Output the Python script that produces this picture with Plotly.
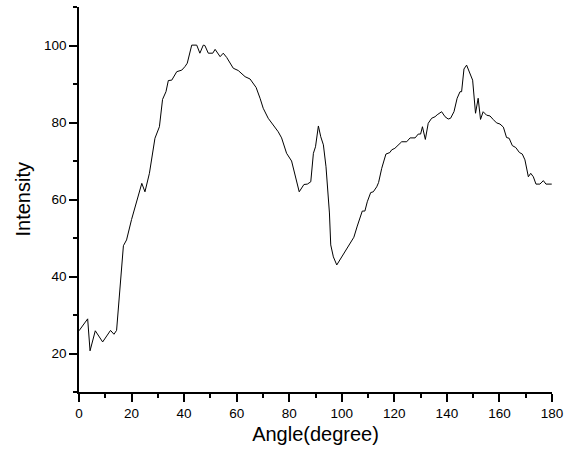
import plotly.graph_objects as go

angle = [0, 3.3, 4.2, 6.2, 9, 12, 13.3, 14.3, 16.9, 18.1, 20, 22, 23.9, 25.1, 26.8, 28.9,
         30.6, 31.8, 33.1, 34, 35.3, 37.2, 39.1, 40.3, 41.2, 42.9, 44.8, 46, 47.3, 47.9,
         49.2, 50.9, 51.8, 53.7, 54.9, 56.2, 58.7, 60.6, 61.9, 63.2, 65.1, 66.3, 67.4,
         68.9, 70.1, 72, 73.9, 75.8, 77.1, 79, 80.9, 82.2, 83.8, 85.6, 86.9, 88.2, 89.2,
         90, 91.1, 92, 93, 94, 95.3, 95.8, 96.8, 98.1, 101.2, 104.6, 105.9, 107, 107.8,
         108.8, 109.7, 111, 112, 113.3, 114, 115.2, 116.8, 118.3, 119, 120.2, 121.5,
         122.8, 124.7, 126, 127.9, 129.1, 130, 130.7, 131.8, 132.9, 134.2, 135.5, 136.3,
         138, 139.3, 140.5, 141.4, 142.7, 143.9, 145, 145.6, 146.5, 147.5, 148.8, 149.8,
         150.9, 151.9, 152.8, 153.8, 155.1, 156.4, 157.6, 158.9, 160.2, 161.5, 162.7,
         163.7, 164.9, 166.2, 167.6, 168.7, 169.7, 171, 171.9, 172.9, 173.9, 175.4, 176.7,
         177.7, 179.9]
intensity = [25.9, 29, 20.7, 25.9, 23, 26, 25, 26, 48, 49.5, 54.8, 60, 64.2, 62, 66.8, 75.9,
             78.9, 86, 88, 90.9, 91, 93.2, 93.6, 94.5, 95.4, 100.1, 100.1, 98, 100.1, 100,
             98, 98, 99, 97.1, 98, 96.9, 94.1, 93.5, 92.8, 91.9, 91.3, 90.3, 89.1,
             86.3, 83.7, 81.1, 79.4, 77.6, 76, 72, 70, 66.3, 62, 63.9, 64, 64.6, 72,
             73.7, 79.1, 76.3, 74.2, 68.5, 56.5, 48.2, 45.1, 43, 46.4, 50.2, 53.1, 55.4, 57,
             57, 59.4, 61.8, 62, 63.3, 64.4, 68.1, 71.8, 72.2, 72.9, 73.3, 74.2,
             75, 75, 76, 76, 77, 77, 78.9, 75.6, 79.8, 81.1, 81.5, 82,
             82.8, 81.5, 80.9, 81.1, 82.8, 86.3, 88, 88, 93.9, 94.9, 92.8, 91,
             82.4, 86.3, 80.8, 82.8, 81.9, 81.7, 80.8, 79.9, 79.6, 78.8, 76.1,
             75.9, 74, 73.5, 72.2, 71.8, 70.3, 65.9, 66.8, 65.9, 64, 64, 64.9,
             64, 64]

x_ticks = [0, 20, 40, 60, 80, 100, 120, 140, 160, 180]
y_ticks = [20, 40, 60, 80, 100]

FONT = "Liberation Sans, Arial"

fig = go.Figure()
fig.add_trace(go.Scatter(x=angle, y=intensity, mode="lines",
                         line=dict(color="black", width=1), showlegend=False))

axis_common = dict(showline=True, linecolor="black", linewidth=1.5, showgrid=False,
                   zeroline=False, ticks="outside", ticklen=8, tickwidth=1.5,
                   tickcolor="black", mirror=False, automargin=False,
                   tickfont=dict(family=FONT, size=13.5, color="black"))

minor_common = dict(dtick=10, tick0=0, ticks="outside", ticklen=4, tickwidth=1.5,
                    tickcolor="black", showgrid=False)

fig.update_layout(
    width=564, height=454,
    margin=dict(l=79, r=12, t=7, b=62),
    paper_bgcolor="white", plot_bgcolor="white",
    xaxis=dict(range=[0, 180], tickvals=x_ticks, ticktext=[str(v) for v in x_ticks],
               minor=minor_common,
               title=dict(text="Angle(degree)", standoff=7,
                          font=dict(family=FONT, size=20, color="black")),
               **axis_common),
    yaxis=dict(range=[10, 110], tickvals=y_ticks, ticktext=[str(v) for v in y_ticks],
               minor=minor_common,
               **axis_common),
    annotations=[dict(text="Intensity", xref="paper", yref="paper",
                      x=(22 - 79) / 473, y=0.5, xanchor="center", yanchor="middle",
                      textangle=-90, showarrow=False,
                      font=dict(family=FONT, size=20, color="black"))],
)

fig.write_html("out.html")
